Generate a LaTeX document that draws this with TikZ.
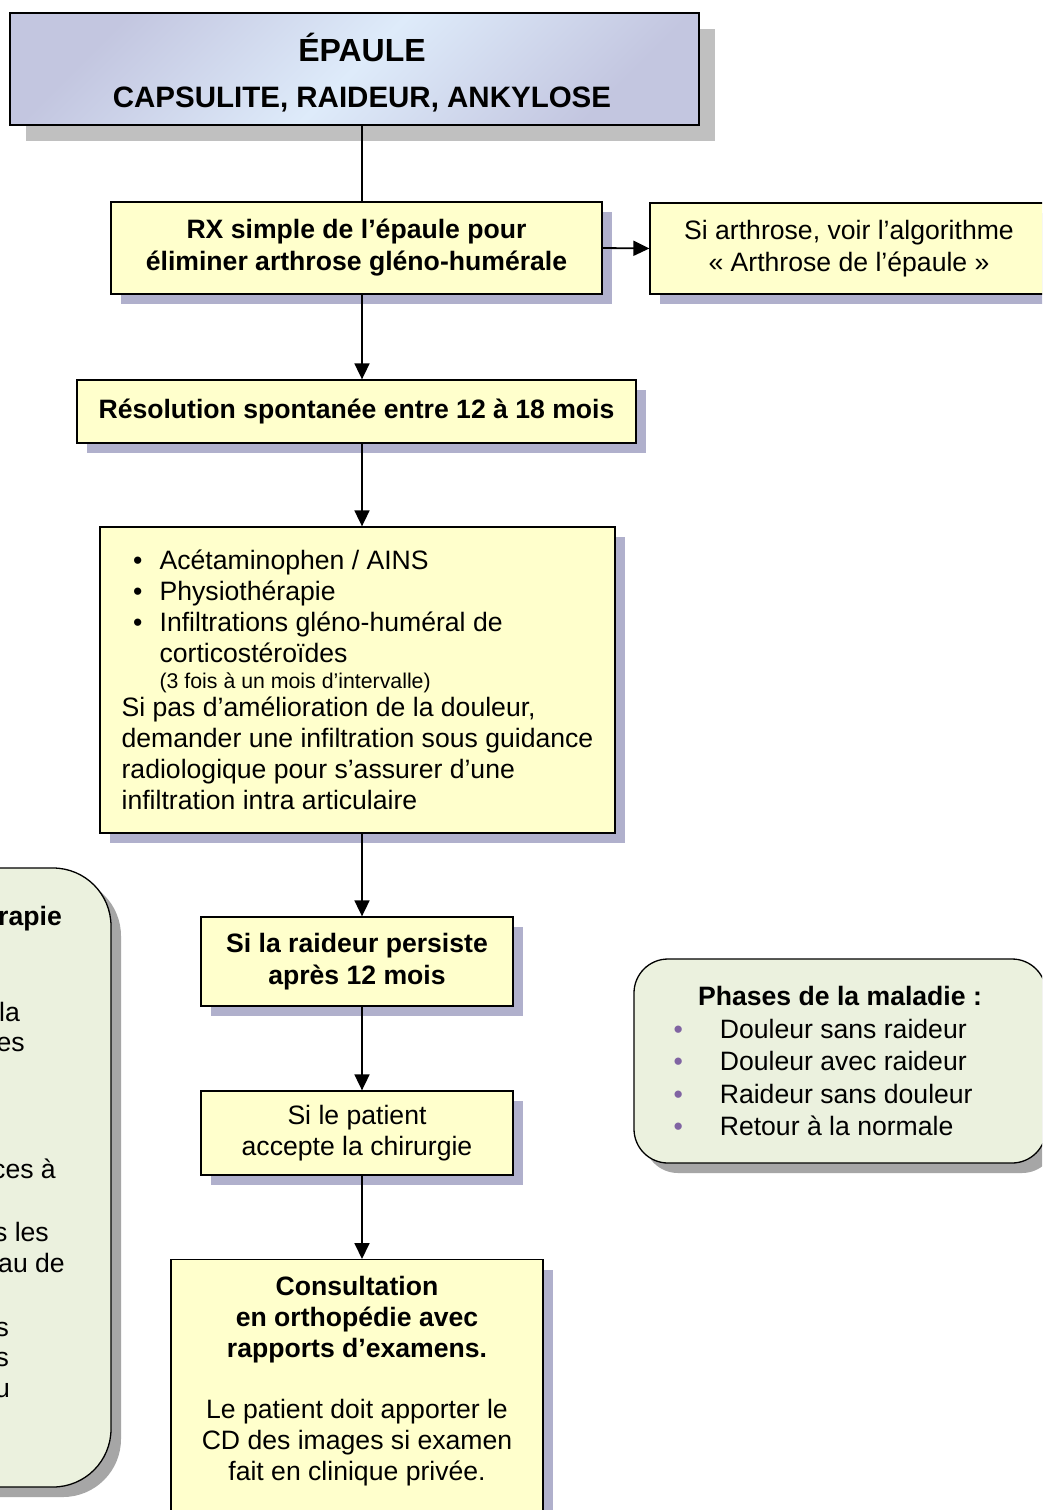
\documentclass[tikz,border=0pt]{standalone}
\usepackage{fontspec}
\setmainfont{Liberation Sans}
\usetikzlibrary{arrows.meta}
\definecolor{ylw}{HTML}{FFFFCC}
\definecolor{ysh}{HTML}{B0B0CC}
\definecolor{gsh}{HTML}{C0C0C0}
\definecolor{grn}{HTML}{EBF1DE}
\definecolor{rsh}{HTML}{A6A6A6}
\definecolor{lav}{HTML}{C3C6E0}
\definecolor{ltb}{HTML}{DEEBFA}
\definecolor{pur}{HTML}{8064A2}
\newcommand\bl{\makebox[38pt][l]{\hspace*{11.5pt}\textbullet}}
\newcommand\pit[1]{\makebox[333pt][l]{\textcolor{pur}{\textbullet}\hspace*{37pt}#1}}
\tikzset{
  body/.style={font=\fontsize{26.6}{31.5}\selectfont},
  frame/.style={draw=black, line width=1.3pt, inner sep=0pt},
  ybox/.style={frame, body, fill=ylw, align=center,
    preaction={fill=ysh, draw=none, transform canvas={xshift=10pt,yshift=-10pt}}},
  gbox/.style={frame, body, fill=grn, align=center,
    preaction={fill=rsh, draw=none, transform canvas={xshift=10pt,yshift=-10pt}}},
  tbox/.style={frame, align=center, shading=axis, top color=lav, bottom color=lav, middle color=ltb, shading angle=45,
    preaction={fill=gsh, draw=none, transform canvas={xshift=16pt,yshift=-16pt}}},
  arr/.style={line width=1.8pt, -{Triangle[length=16pt,width=15pt]}},
  link/.style={line width=1.8pt},
  frag/.style={body, inner sep=0pt, anchor=base east},
}
\begin{document}
\begin{tikzpicture}[x=1pt,y=-1pt]
\useasboundingbox (0,0) rectangle (1042,1510);
\clip (0,0) rectangle (1042,1510);
\fill[white] (0,0) rectangle (1042,1510);
\coordinate (sp) at (362,0);

% title
\node[tbox, minimum width=689, minimum height=112, font=\fontsize{29.5}{46}\selectfont\bfseries] (title) at (354.5,69)
  {\rule{0pt}{36pt}\hspace*{15pt}{\fontsize{32}{46}\selectfont ÉPAULE}\\\hspace*{15pt}CAPSULITE, RAIDEUR, ANKYLOSE};

\node[ybox, minimum width=491, minimum height=92, font=\fontsize{26.6}{32}\selectfont\bfseries] (rx) at (356.5,248)
  {RX simple de l’épaule pour\\éliminer arthrose gléno-humérale};

\node[ybox, minimum width=398, minimum height=91] (arth) at (849,248.5)
  {Si arthrose, voir l’algorithme\\« Arthrose de l’épaule »};

\node[ybox, minimum width=559, minimum height=63, font=\fontsize{26.6}{31.5}\selectfont\bfseries] (res) at (356.5,411.5)
  {Résolution spontanée entre 12 à 18 mois};

\node[ybox, minimum width=515, minimum height=306, align=left, font=\fontsize{26.6}{31}\selectfont] (trt) at (357.5,680)
  {\bl Acétaminophen / AINS\\
   \bl Physiothérapie\\
   \bl Infiltrations gléno-huméral de\\
   \hspace*{38pt}corticostéroïdes\\[-5pt]
   \hspace*{38pt}{\fontsize{21.3}{25}\selectfont (3 fois à un mois d’intervalle)}\\[-3pt]
   Si pas d’amélioration de la douleur,\\
   demander une infiltration sous guidance\\
   radiologique pour s’assurer d’une\\
   infiltration intra articulaire};

\node[ybox, minimum width=312, minimum height=89, font=\fontsize{26.6}{31.5}\selectfont\bfseries] (pers) at (357,961.5)
  {Si la raideur persiste\\après 12 mois};

\node[ybox, minimum width=312, minimum height=84, font=\fontsize{26.6}{30.5}\selectfont] (acc) at (357,1133)
  {Si le patient\\accepte la chirurgie};

\node[ybox, minimum width=372, minimum height=300, anchor=north] (cons) at (357,1259) {};
\node[align=center, anchor=north, inner sep=0pt, font=\fontsize{26.6}{30.8}\selectfont] (constxt) at ([yshift=-17pt]cons.north)
  {\bfseries Consultation\\\bfseries en orthopédie avec\\\bfseries rapports d’examens.\\[30.8pt]
   Le patient doit apporter le\\CD des images si examen\\fait en clinique privée.};

% left rounded box (cut by the page edge)
\node[gbox, rounded corners=58pt, minimum width=411, minimum height=619] (left) at (-94.5,1177.5) {};
\node[frag, font=\fontsize{26.6}{31.5}\selectfont\bfseries] (f1) at (62,925) {rapie};
\node[frag] (f2) at (20,1021) {la};
\node[frag] (f3) at (25,1051) {es};
\node[frag] (f4) at (56,1178) {ces à};
\node[frag] (f5) at (49,1241) {s les};
\node[frag] (f6) at (65,1272) {au de};
\node[frag] (f7) at (9,1336) {s};
\node[frag] (f8) at (9,1366) {s};
\node[frag] (f9) at (10,1397) {u};

% phases box
\node[gbox, rounded corners=34pt, minimum width=412, minimum height=204, font=\fontsize{26.6}{32.5}\selectfont] (ph) at (840,1061)
  {{\bfseries Phases de la maladie :}\\
   \pit{Douleur sans raideur}\\
   \pit{Douleur avec raideur}\\
   \pit{Raideur sans douleur}\\
   \pit{Retour à la normale}};

% connectors
\draw[link] (title.south -| sp) -- (rx.north -| sp);
\draw[arr] (rx.east) -- (arth.west);
\draw[arr] (rx.south -| sp) -- (res.north -| sp);
\draw[arr] (res.south -| sp) -- (trt.north -| sp);
\draw[arr] (trt.south -| sp) -- (pers.north -| sp);
\draw[arr] (pers.south -| sp) -- (acc.north -| sp);
\draw[arr] (acc.south -| sp) -- (cons.north -| sp);
\end{tikzpicture}
\end{document}
